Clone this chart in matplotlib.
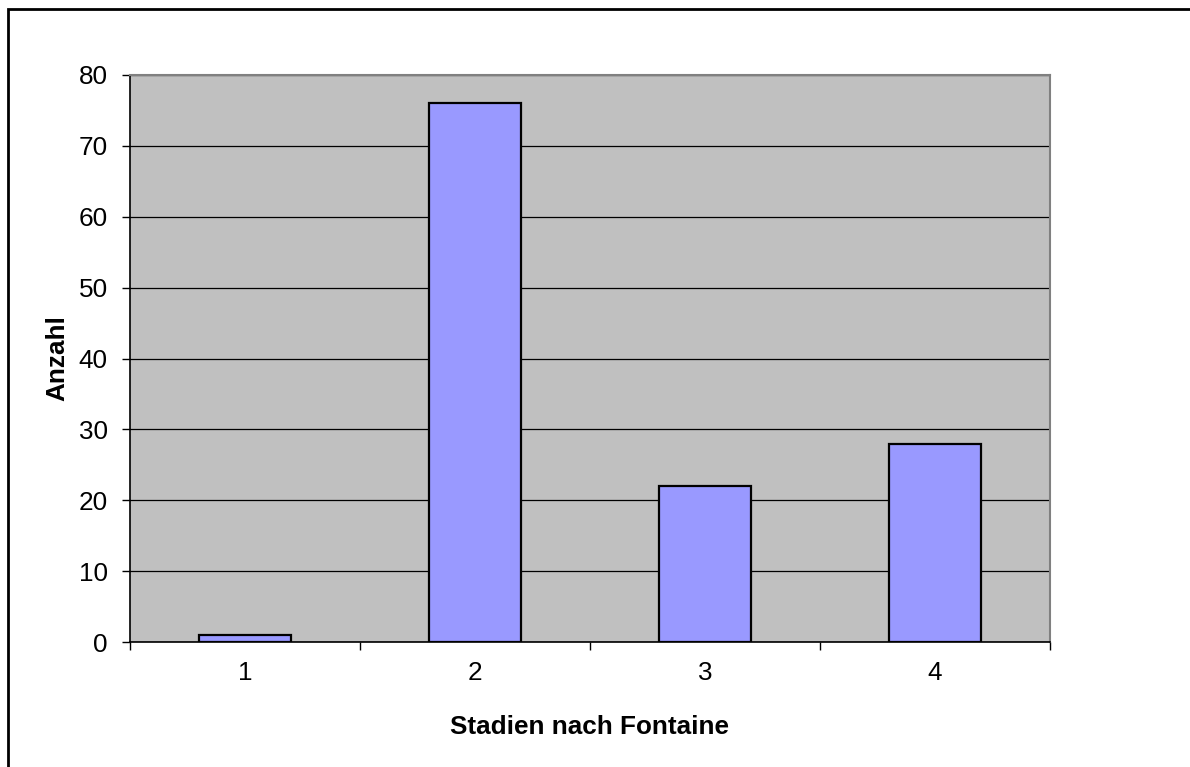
import matplotlib
matplotlib.use("Agg")
import matplotlib.pyplot as plt
from matplotlib.patches import Rectangle

plt.rcParams['font.family'] = ['Liberation Sans', 'DejaVu Sans']

# Fontaine-Stadien und Anzahl der Patienten
stadien = [1, 2, 3, 4]
stadien_labels = ['1', '2', '3', '4']
anzahl = [1, 76, 22, 28]
y_ticks = [0, 10, 20, 30, 40, 50, 60, 70, 80]

FS = 18.8


def stadien_bar_chart():
    fig = plt.figure(figsize=(11.9, 7.67), dpi=100)
    ax = fig.add_axes([130 / 1190, 1 - 642 / 767, 920 / 1190, 567 / 767])
    ax.set_facecolor('#C0C0C0')

    ax.bar(stadien, anzahl, width=0.4, color='#9999FF', edgecolor='black',
           linewidth=1.6, zorder=3)

    ax.set_xlim(0.5, 4.5)
    ax.set_ylim(0, 80)
    ax.set_yticks(y_ticks)
    ax.yaxis.grid(True, color='black', linewidth=0.9, zorder=1)
    ax.set_axisbelow(True)

    # category labels in the middle, tick marks between categories
    ax.set_xticks(stadien)
    ax.set_xticklabels(stadien_labels)
    ax.set_xticks([0.5, 1.5, 2.5, 3.5, 4.5], minor=True)
    ax.tick_params(axis='x', which='major', length=0, pad=14, labelsize=FS)
    ax.tick_params(axis='x', which='minor', length=6, width=1, color='black')
    ax.tick_params(axis='y', length=6, width=1, pad=10, labelsize=FS)

    for side in ['top', 'right']:
        ax.spines[side].set_color('#808080')
        ax.spines[side].set_linewidth(1.5)
    for side in ['left', 'bottom']:
        ax.spines[side].set_color('black')
        ax.spines[side].set_linewidth(1.2)

    ax.set_xlabel('Stadien nach Fontaine', fontsize=FS, fontweight='bold', labelpad=21)
    ax.set_ylabel('Anzahl', fontsize=FS, fontweight='bold', labelpad=7)

    # chart frame
    fig.patches.append(Rectangle((8 / 1190, -0.05), 1.1, 1 - 8.5 / 767 + 0.05,
                                 transform=fig.transFigure, fill=False,
                                 edgecolor='black', linewidth=2))

    fig.savefig('out.png', dpi=100)


stadien_bar_chart()
